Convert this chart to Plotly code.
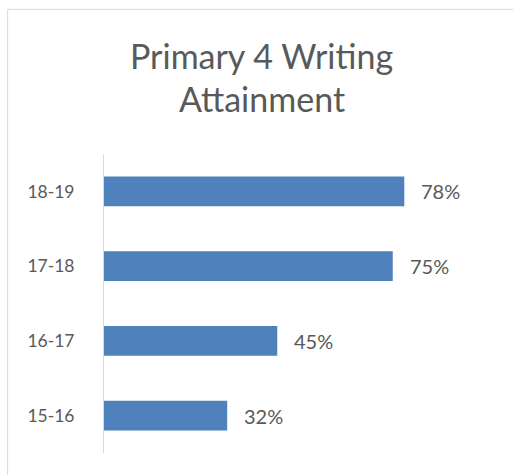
import plotly.graph_objects as go

categories = ["15-16", "16-17", "17-18", "18-19"]
values = [32, 45, 75, 78]
labels = ["32%", "45%", "75%", "78%"]
title_lines = ["Primary 4 Writing", "Attainment"]

W, H = 513, 475
L, R, T, B = 104, 23.5, 154, 22.3
pw = W - L - R
ph = H - T - B

FONT = "Lato"
GREY = "#595959"

fig = go.Figure()
fig.add_trace(go.Bar(
    x=values, y=categories, orientation="h",
    marker=dict(color="#4F81BD", line=dict(width=0)),
    hoverinfo="skip",
))

annotations = []
for v, c, t in zip(values, categories, labels):
    annotations.append(dict(x=v, y=c, xref="x", yref="y", text=t,
                            showarrow=False, xanchor="left", yanchor="middle",
                            xshift=15, font=dict(family=FONT, size=20, color=GREY)))

def py(ypix):
    return (H - B - ypix) / ph

def px(xpix):
    return (xpix - L) / pw

annotations.append(dict(x=px(262), y=py(56), xref="paper", yref="paper",
                        text=title_lines[0], showarrow=False, xanchor="center",
                        yanchor="middle", font=dict(family=FONT, size=34, color=GREY)))
annotations.append(dict(x=px(262), y=py(99), xref="paper", yref="paper",
                        text=title_lines[1], showarrow=False, xanchor="center",
                        yanchor="middle", font=dict(family=FONT, size=34, color=GREY)))

fig.update_layout(
    width=W, height=H,
    margin=dict(l=L, r=R, t=T, b=B, pad=0),
    paper_bgcolor="white", plot_bgcolor="white",
    showlegend=False,
    bargap=0.6,
    annotations=annotations,
    xaxis=dict(range=[0, 100], visible=False, fixedrange=True),
    yaxis=dict(categoryorder="array", categoryarray=categories,
               showline=True, linecolor="#D9D9D9", linewidth=1,
               showgrid=False, zeroline=False, ticks="",
               ticklabelstandoff=25,
               tickfont=dict(family=FONT, size=17.5, color=GREY)),
    shapes=[dict(type="rect", xref="paper", yref="paper",
                 x0=px(7.5), x1=px(530), y0=py(490), y1=py(9.5),
                 line=dict(color="#D9D9D9", width=1), fillcolor="rgba(0,0,0,0)",
                 layer="below")],
)

fig.write_html("out.html")
